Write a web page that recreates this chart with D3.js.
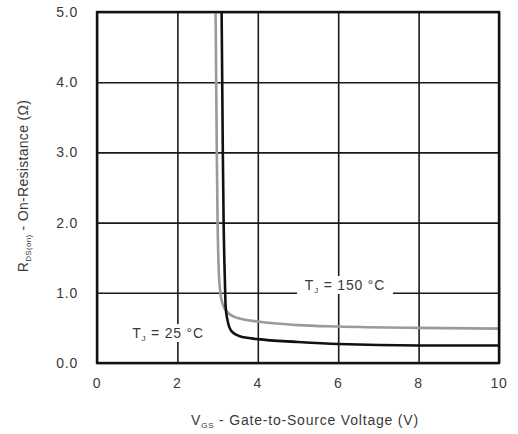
<!DOCTYPE html>
<html>
<head>
<script src="https://d3js.org/d3.v7.min.js"></script>
<style>
  body { margin: 0; background: #fff; }
  text { font-family: "Liberation Sans", Arial, sans-serif; fill: #3a3a3a; letter-spacing: 0.8px; }
</style>
</head>
<body>
<script>
  var width = 518, height = 434;
  var margin = {top: 12, left: 97, right: 19, bottom: 71};

  // data
  var xTicks = [0, 2, 4, 6, 8, 10];
  var yTicks = [0, 1, 2, 3, 4, 5];
  var hotV = [2.95, 2.98, 3.0, 3.03, 3.07, 3.12, 3.25, 3.5, 4, 5, 6, 8, 10];
  var hotR = [5.0, 3.0, 2.0, 1.3, 1.0, 0.85, 0.72, 0.64, 0.59, 0.54, 0.52, 0.50, 0.49];
  var coldV = [3.10, 3.13, 3.15, 3.18, 3.2, 3.25, 3.35, 3.55, 4, 5, 6, 8, 10];
  var coldR = [5.0, 3.0, 2.0, 1.2, 0.8, 0.6, 0.45, 0.38, 0.34, 0.30, 0.27, 0.25, 0.25];

  var svg = d3.select("body").append("svg")
    .attr("width", width).attr("height", height);

  var x = d3.scaleLinear().domain([0, 10]).range([margin.left, width - margin.right]);
  var y = d3.scaleLinear().domain([0, 5]).range([height - margin.bottom, margin.top]);

  // grid
  svg.append("g")
    .attr("transform", `translate(0,${height - margin.bottom})`)
    .call(d3.axisBottom(x).tickValues(xTicks).tickSize(-(height - margin.top - margin.bottom)).tickFormat(""))
    .call(g => g.select(".domain").remove())
    .selectAll("line").attr("stroke", "#1a1a1a").attr("stroke-width", 1.6);

  svg.append("g")
    .attr("transform", `translate(${margin.left},0)`)
    .call(d3.axisLeft(y).tickValues(yTicks).tickSize(-(width - margin.left - margin.right)).tickFormat(""))
    .call(g => g.select(".domain").remove())
    .selectAll("line").attr("stroke", "#1a1a1a").attr("stroke-width", 1.6);

  // tick labels
  svg.selectAll(".xt").data(xTicks).enter().append("text")
    .attr("x", d => x(d)).attr("y", 388)
    .attr("text-anchor", "middle").attr("font-size", 14)
    .text(d => d);

  svg.selectAll(".yt").data(yTicks).enter().append("text")
    .attr("x", 78).attr("y", d => y(d) + 5)
    .attr("text-anchor", "end").attr("font-size", 14)
    .text(d => d.toFixed(1));

  // curves
  var line = d3.line().x(d => x(d[0])).y(d => y(d[1])).curve(d3.curveMonotoneX);
  svg.append("clipPath").attr("id", "clip").append("rect")
    .attr("x", margin.left).attr("y", margin.top)
    .attr("width", width - margin.left - margin.right)
    .attr("height", height - margin.top - margin.bottom);

  svg.append("path")
    .datum(d3.zip(hotV, hotR))
    .attr("clip-path", "url(#clip)")
    .attr("fill", "none").attr("stroke", "#9a9a9a").attr("stroke-width", 2.6)
    .attr("d", line);

  svg.append("path")
    .datum(d3.zip(coldV, coldR))
    .attr("clip-path", "url(#clip)")
    .attr("fill", "none").attr("stroke", "#111").attr("stroke-width", 2.6)
    .attr("d", line);

  // border
  svg.append("rect")
    .attr("x", margin.left).attr("y", margin.top)
    .attr("width", width - margin.left - margin.right)
    .attr("height", height - margin.top - margin.bottom)
    .attr("fill", "none").attr("stroke", "#111").attr("stroke-width", 2.4);

  // curve labels with white backing
  function tjLabel(cx, cy, w, val) {
    svg.append("rect").attr("x", cx - w / 2).attr("y", cy - 9).attr("width", w).attr("height", 18).attr("fill", "#fff");
    var t = svg.append("text").attr("x", cx).attr("y", cy + 5)
      .attr("text-anchor", "middle").attr("font-size", 14);
    t.append("tspan").text("T");
    t.append("tspan").attr("font-size", 8).attr("dy", 3).text("J");
    t.append("tspan").attr("dy", -3).text(" = " + val + " \u00B0C");
  }
  tjLabel(345, 285, 96, 150);
  tjLabel(168, 333, 88, 25);

  // axis titles
  var xt = svg.append("text").attr("x", 305).attr("y", 425)
    .attr("text-anchor", "middle").attr("font-size", 14);
  xt.append("tspan").text("V");
  xt.append("tspan").attr("font-size", 8).attr("dy", 3).text("GS");
  xt.append("tspan").attr("dy", -3).text(" - Gate-to-Source Voltage (V)");

  var yt = svg.append("text")
    .attr("transform", "translate(28,186) rotate(-90)")
    .attr("text-anchor", "middle").attr("font-size", 14)
    .style("letter-spacing", "0.3px");
  yt.append("tspan").text("R");
  yt.append("tspan").attr("font-size", 8).attr("dy", 3).text("DS(on)");
  yt.append("tspan").attr("dy", -3).text(" - On-Resistance (\u03A9)");
</script>
</body>
</html>
